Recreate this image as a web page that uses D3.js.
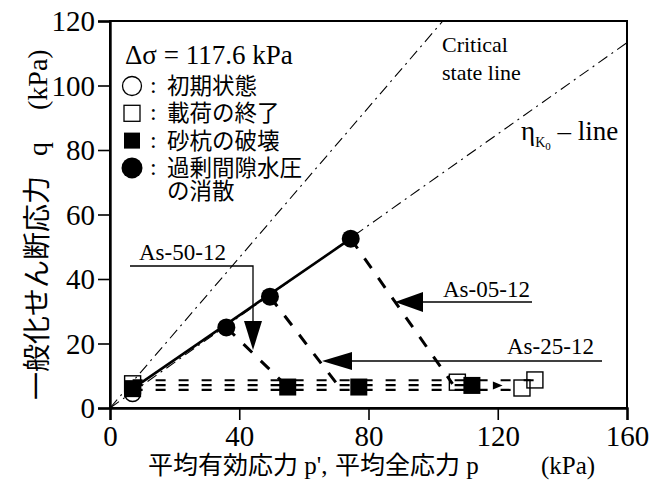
<!DOCTYPE html>
<html>
<head>
<meta charset="utf-8">
<script src="https://cdn.jsdelivr.net/npm/d3@7"></script>
<style>
  html, body { margin: 0; padding: 0; background: #fff; }
  svg { display: block; }
</style>
</head>
<body>
<svg id="chart" width="654" height="483"></svg>
<script>
// Axis ticks
const xTicks = [0, 40, 80, 120, 160];
const yTicks = [0, 20, 40, 60, 80, 100, 120];

// Initial state (p', q)
const initialState = [[7, 4.5]];
// End of loading (open squares)
const loadEnd = [[7, 7.5], [107.5, 8.0], [127.5, 6.2], [131.5, 8.7]];
// Sand pile failure (filled squares)
const pileFailure = [[7, 6], [55, 6.5], [77, 6.5], [112, 7.0]];
// Dissipation of excess pore pressure (filled circles)
const dissipation = [[36, 25], [49.5, 34.5], [74.5, 52.5]];
// Solid line through dissipation points
const dissipationLine = [[7, 6], [74.5, 52.5]];
// Dashed paths from each dissipation point back down to failure
const recoveryPaths = [
  [[36, 25], [55, 6.5]],
  [[49.5, 34.5], [71, 6.5]],
  [[74.5, 52.5], [106, 7.5]]
];
// Near-horizontal dashed stress paths along the bottom
const loadingPaths = [
  [[7, 5.6], [127.5, 5.6]],
  [[7, 7.1], [112, 7.1]],
  [[7, 8.6], [131.5, 8.6]]
];
// Reference lines q = eta * p
const criticalSlope = 1.165;
const k0Slope = 0.708;

const SERIF = "'Liberation Serif', 'Noto Sans CJK JP', serif";
const CJK = "'Liberation Serif', 'Noto Sans CJK JP', sans-serif";

const svg = d3.select("#chart");
const x = d3.scaleLinear().domain([0, 160]).range([110, 627]);
const y = d3.scaleLinear().domain([0, 120]).range([408, 21]);
const line = d3.line().x(d => x(d[0])).y(d => y(d[1]));

function txt(sel, family, size) {
  return sel.append("text").style("font-family", family).attr("font-size", size).attr("fill", "#000");
}

// Reference lines
svg.append("path")
  .attr("d", line([[0, 0], [120 / criticalSlope, 120]]))
  .attr("fill", "none").attr("stroke", "#000").attr("stroke-width", 1.1)
  .attr("stroke-dasharray", "11,5,2,5");
svg.append("path")
  .attr("d", line([[0, 0], [160, 160 * k0Slope]]))
  .attr("fill", "none").attr("stroke", "#000").attr("stroke-width", 1.1)
  .attr("stroke-dasharray", "11,5,2,5");

// Bottom stress paths
loadingPaths.forEach(p => {
  svg.append("path").attr("d", line(p))
    .attr("fill", "none").attr("stroke", "#000").attr("stroke-width", 2.2)
    .attr("stroke-dasharray", "10,13");
});
// Recovery paths
recoveryPaths.forEach(p => {
  svg.append("path").attr("d", line(p))
    .attr("fill", "none").attr("stroke", "#000").attr("stroke-width", 3)
    .attr("stroke-dasharray", "12,12");
});
// Solid line
svg.append("path").attr("d", line(dissipationLine))
  .attr("fill", "none").attr("stroke", "#000").attr("stroke-width", 2.6);

// Markers
svg.selectAll(".sqf").data(pileFailure).enter().append("rect")
  .attr("x", d => x(d[0]) - 8.5).attr("y", d => y(d[1]) - 8.5)
  .attr("width", 17).attr("height", 17).attr("fill", "#000");
svg.selectAll(".sqo").data(loadEnd).enter().append("rect")
  .attr("x", d => x(d[0]) - 8).attr("y", d => y(d[1]) - 8)
  .attr("width", 16).attr("height", 16).attr("fill", "none")
  .attr("stroke", "#000").attr("stroke-width", 1.4);
svg.selectAll(".ci").data(initialState).enter().append("circle")
  .attr("cx", d => x(d[0])).attr("cy", d => y(d[1])).attr("r", 8)
  .attr("fill", "none").attr("stroke", "#000").attr("stroke-width", 1.4);
svg.selectAll(".cf").data(dissipation).enter().append("circle")
  .attr("cx", d => x(d[0])).attr("cy", d => y(d[1])).attr("r", 9)
  .attr("fill", "#000");
// small arrowhead on the bottom path
svg.append("path")
  .attr("d", `M${x(118.5)},${y(7) - 4} L${x(121.5)},${y(7)} L${x(118.5)},${y(7) + 4} Z`)
  .attr("fill", "#000");

// Frame and axes
svg.append("rect").attr("x", x(0)).attr("y", y(120))
  .attr("width", x(160) - x(0)).attr("height", y(0) - y(120))
  .attr("fill", "none").attr("stroke", "#000").attr("stroke-width", 2);

const xAxis = svg.append("g").attr("transform", `translate(0,${y(0)})`)
  .call(d3.axisBottom(x).tickValues(xTicks).tickSize(12).tickPadding(3));
const yAxis = svg.append("g").attr("transform", `translate(${x(0)},0)`)
  .call(d3.axisLeft(y).tickValues(yTicks).tickSize(12).tickPadding(3));
[xAxis, yAxis].forEach(g => {
  g.attr("font-family", null);
  g.select(".domain").attr("stroke-width", 2.4);
  g.selectAll(".tick line").attr("stroke-width", 1.6);
  g.selectAll(".tick text").style("font-family", SERIF)
    .attr("font-size", 29).attr("fill", "#000");
});
xAxis.selectAll(".tick text").attr("dy", "0.78em");
yAxis.selectAll(".tick text").attr("dy", "0.34em");

// Axis titles
txt(svg, CJK, 25).attr("x", 148).attr("y", 474).text("平均有効応力 p',");
txt(svg, CJK, 25).attr("x", 335).attr("y", 474).text("平均全応力 p");
txt(svg, SERIF, 25).attr("x", 541).attr("y", 474).text("(kPa)");

const yt = svg.append("g").attr("transform", "translate(47,400) rotate(-90)");
txt(yt, CJK, 28).text("一般化せん断応力");
txt(yt, SERIF, 28).attr("x", 244).text("q");
txt(yt, SERIF, 28).attr("x", 290).text("(kPa)");

// Legend
txt(svg, SERIF, 27).attr("x", 125).attr("y", 64).text("Δσ = 117.6 kPa");
const legendRows = [
  { kind: "circleOpen", label: "初期状態" },
  { kind: "squareOpen", label: "載荷の終了" },
  { kind: "squareFilled", label: "砂杭の破壊" },
  { kind: "circleFilled", label: "過剰間隙水圧" }
];
legendRows.forEach((r, i) => {
  const cy = 86 + i * 27.3;
  if (r.kind === "circleOpen")
    svg.append("circle").attr("cx", 132).attr("cy", cy).attr("r", 9.5)
      .attr("fill", "none").attr("stroke", "#000").attr("stroke-width", 1.3);
  if (r.kind === "circleFilled")
    svg.append("circle").attr("cx", 132).attr("cy", cy).attr("r", 10.5).attr("fill", "#000");
  if (r.kind === "squareOpen")
    svg.append("rect").attr("x", 124).attr("y", cy - 8).attr("width", 16).attr("height", 16)
      .attr("fill", "none").attr("stroke", "#000").attr("stroke-width", 1.3);
  if (r.kind === "squareFilled")
    svg.append("rect").attr("x", 124).attr("y", cy - 8).attr("width", 16).attr("height", 16)
      .attr("fill", "#000");
  txt(svg, SERIF, 24).attr("x", 150).attr("y", cy + 7).text(":");
  txt(svg, CJK, 22.5).attr("x", 167).attr("y", cy + 8).text(r.label);
});
txt(svg, CJK, 22.5).attr("x", 167).attr("y", 199).text("の消散");

// Reference line labels
txt(svg, SERIF, 22).attr("x", 442).attr("y", 52).text("Critical");
txt(svg, SERIF, 22).attr("x", 442).attr("y", 80).text("state line");
const eta = txt(svg, SERIF, 27).attr("x", 521).attr("y", 140);
eta.append("tspan").text("η");
eta.append("tspan").attr("font-size", 14).attr("dy", 7).text("K");
eta.append("tspan").attr("font-size", 11).attr("dy", 3).text("0");
eta.append("tspan").attr("dy", -10).text(" – line");

// Case annotations with arrows
function arrowHead(tip, dir, len, half) {
  if (dir === "down")
    return `M${tip[0]},${tip[1]} L${tip[0] - half},${tip[1] - len} L${tip[0] + half},${tip[1] - len} Z`;
  return `M${tip[0]},${tip[1]} L${tip[0] + len},${tip[1] - half} L${tip[0] + len},${tip[1] + half} Z`;
}
// As-50-12
txt(svg, SERIF, 23).attr("x", 139).attr("y", 260).text("As-50-12");
svg.append("path").attr("d", "M130,266 H253 V322")
  .attr("fill", "none").attr("stroke", "#000").attr("stroke-width", 1.3);
svg.append("path").attr("d", arrowHead([253, 350], "down", 29, 9)).attr("fill", "#000");
// As-05-12
txt(svg, SERIF, 23).attr("x", 443).attr("y", 297).text("As-05-12");
svg.append("path").attr("d", "M422,302 H532")
  .attr("fill", "none").attr("stroke", "#000").attr("stroke-width", 1.3);
svg.append("path").attr("d", arrowHead([395, 302], "left", 28, 10)).attr("fill", "#000");
// As-25-12
txt(svg, SERIF, 23).attr("x", 507).attr("y", 354).text("As-25-12");
svg.append("path").attr("d", "M350,361 H602")
  .attr("fill", "none").attr("stroke", "#000").attr("stroke-width", 1.3);
svg.append("path").attr("d", arrowHead([322, 361], "left", 30, 9)).attr("fill", "#000");
</script>
</body>
</html>
